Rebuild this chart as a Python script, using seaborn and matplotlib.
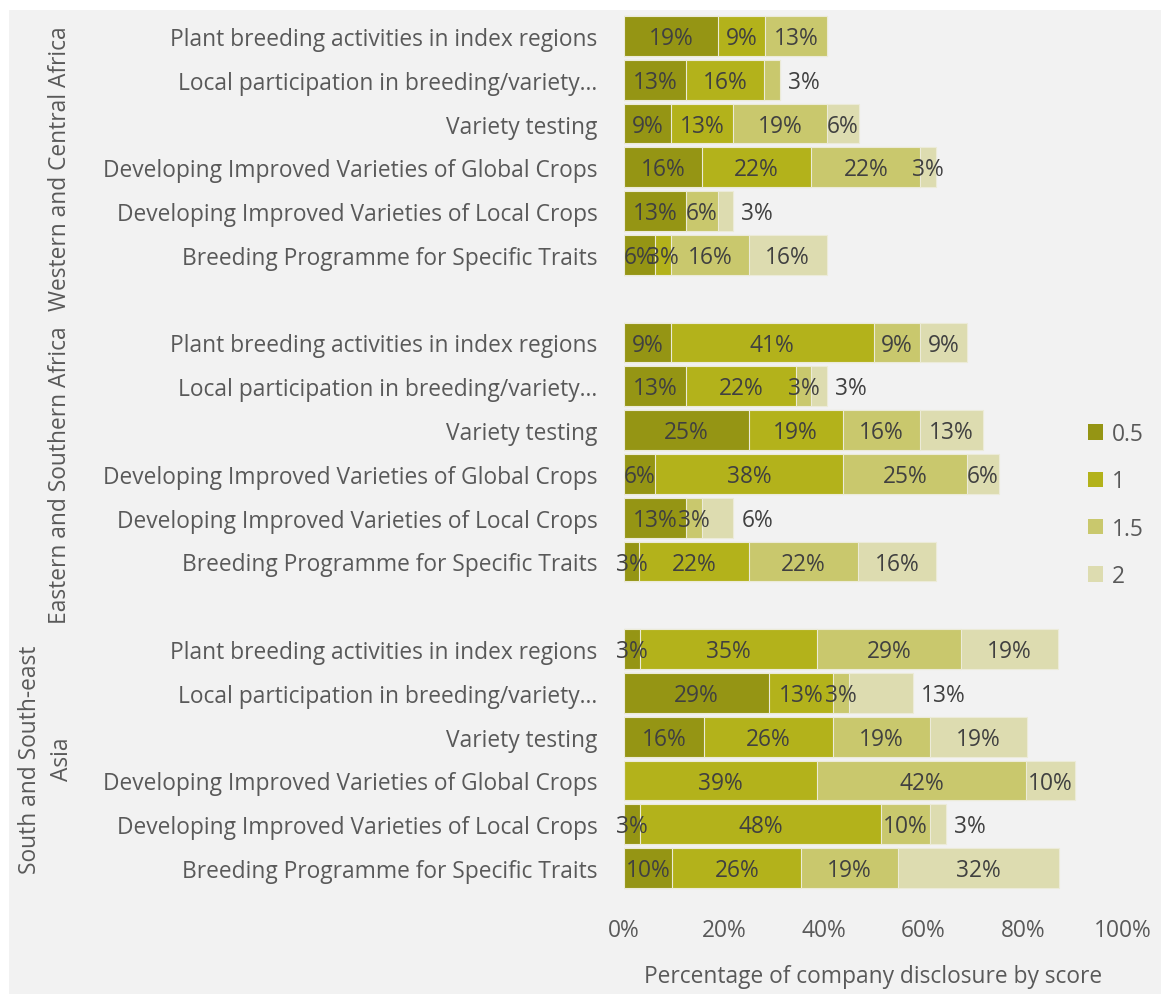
import pandas as pd
import matplotlib.pyplot as plt
import matplotlib.transforms as mtransforms
from matplotlib.patches import Rectangle
import seaborn as sns

# Dados (percentagem de empresas por pontuação)
regions = ['Western and Central Africa', 'Eastern and Southern Africa', 'South and South-east\nAsia']
categories = ['Plant breeding activities in index regions',
              'Local participation in breeding/variety\u2026',
              'Variety testing',
              'Developing Improved Varieties of Global Crops',
              'Developing Improved Varieties of Local Crops',
              'Breeding Programme for Specific Traits']
scores = ['0.5', '1', '1.5', '2']

west_05 = [18.8, 12.5, 9.4, 15.6, 12.5, 6.3]
west_1 = [9.4, 15.6, 12.5, 21.9, 0, 3.1]
west_15 = [12.5, 3.1, 18.8, 21.9, 6.3, 15.6]
west_2 = [0, 0, 6.3, 3.1, 3.1, 15.6]

east_05 = [9.4, 12.5, 25.0, 6.3, 12.5, 3.1]
east_1 = [40.6, 21.9, 18.8, 37.5, 0, 21.9]
east_15 = [9.4, 3.1, 15.6, 25.0, 3.1, 21.9]
east_2 = [9.4, 3.1, 12.5, 6.3, 6.3, 15.6]

south_05 = [3.2, 29.0, 16.1, 0, 3.2, 9.7]
south_1 = [35.4, 12.9, 25.8, 38.7, 48.4, 25.8]
south_15 = [29.0, 3.2, 19.4, 41.9, 9.7, 19.4]
south_2 = [19.4, 12.9, 19.4, 9.7, 3.2, 32.3]

# linhas cujo ultimo rotulo fica fora da barra
outside_rows = [1, 4]

series = {
    regions[0]: [west_05, west_1, west_15, west_2],
    regions[1]: [east_05, east_1, east_15, east_2],
    regions[2]: [south_05, south_1, south_15, south_2],
}

colors = {'0.5': '#959514', '1': '#b3b21b', '1.5': '#c9c86d', '2': '#dddcb0'}
bg = '#f2f2f2'
txt = '#595959'
fs = 16.4

# Montar tabela longa
rows = []
slot_order = []
slot_names = []
group_slots = {}
for g, reg in enumerate(regions):
    start = len(slot_order)
    for i, cat in enumerate(categories):
        slot = f'{g}-{i}'
        slot_order.append(slot)
        slot_names.append(cat)
        for s, vals in zip(scores, series[reg]):
            rows.append({'region': reg, 'row': i, 'slot': slot, 'score': s, 'value': vals[i]})
    if g < len(regions) - 1:
        slot_order.append(f'{g}-gap')
        slot_names.append('')
    group_slots[reg] = (start, len(slot_order) - 1)

df = pd.DataFrame(rows)
df['cum'] = df.groupby('slot')['value'].cumsum()

sns.set_style('white', {'axes.facecolor': bg})
plt.rcParams['font.family'] = ['Open Sans', 'DejaVu Sans']

fig = plt.figure(figsize=(11.61, 9.95), dpi=100, facecolor='white')
fig.patches.append(Rectangle((9 / 1161, 0), 1, 1 - 11 / 995, transform=fig.transFigure,
                             facecolor=bg, edgecolor='none', zorder=-1))
ax = fig.add_axes([624 / 1161, 1 - 891 / 995, 499 / 1161, (891 - 15) / 995])
ax.set_facecolor(bg)

for s in reversed(scores):
    sns.barplot(data=df[df['score'] == s], x='cum', y='slot', order=slot_order,
                color=colors[s], orient='h', width=0.91, edgecolor='#ecebd8', linewidth=0.8,
                saturation=1, ax=ax)

# Rotulos de percentagem
slot_index = {s: k for k, s in enumerate(slot_order)}
for slot, grp in df.groupby('slot'):
    y = slot_index[slot]
    nz = grp[grp['value'] > 0]
    last = nz.index[-1]
    total = grp['value'].sum()
    for idx, r in nz.iterrows():
        lab = f"{int(r['value'] + 0.5)}%"
        if r['row'] in outside_rows and idx == last:
            ax.text(total + 1.6, y + 0.05, lab, ha='left', va='center', fontsize=fs, color='#404040')
        else:
            ax.text(r['cum'] - r['value'] / 2, y + 0.05, lab, ha='center', va='center',
                    fontsize=fs, color='#404040')

ax.set_xlim(0, 100)
ax.set_ylim(len(slot_order) - 0.5, -0.5)
ax.set_xticks([0, 20, 40, 60, 80, 100])
ax.set_xticklabels(['0%', '20%', '40%', '60%', '80%', '100%'], fontsize=fs, color=txt)
ax.set_yticks(range(len(slot_order)))
ax.set_yticklabels(slot_names, fontsize=fs, color=txt)
ax.tick_params(axis='both', length=0)
ax.tick_params(axis='y', pad=19)
ax.tick_params(axis='x', pad=20)
ax.set_ylabel('')
ax.set_xlabel('Percentage of company disclosure by score', fontsize=fs, color=txt, labelpad=16)
sns.despine(ax=ax, left=True, bottom=True)
ax.grid(False)

# Rotulos das regioes
trans = mtransforms.blended_transform_factory(fig.transFigure, ax.transData)
for reg in regions:
    a, b = group_slots[reg]
    xpos = 46 / 1161 if '\n' in reg else 60 / 1161
    ax.text(xpos, (a + b) / 2, reg, transform=trans, rotation=90, ha='center', va='center',
            fontsize=fs, color=txt, multialignment='center', linespacing=1.45)

# Legenda
handles = [Rectangle((0, 0), 1, 1, facecolor=colors[s], edgecolor='none') for s in scores]
fig.legend(handles, scores, loc='center left', bbox_to_anchor=(1088 / 1161, 1 - 506 / 995),
           frameon=False, fontsize=fs, labelcolor=txt, handlelength=0.67, handleheight=0.67,
           handletextpad=0.4, labelspacing=1.02, borderpad=0, borderaxespad=0)

plt.savefig('out.png', dpi=100, facecolor='white')
